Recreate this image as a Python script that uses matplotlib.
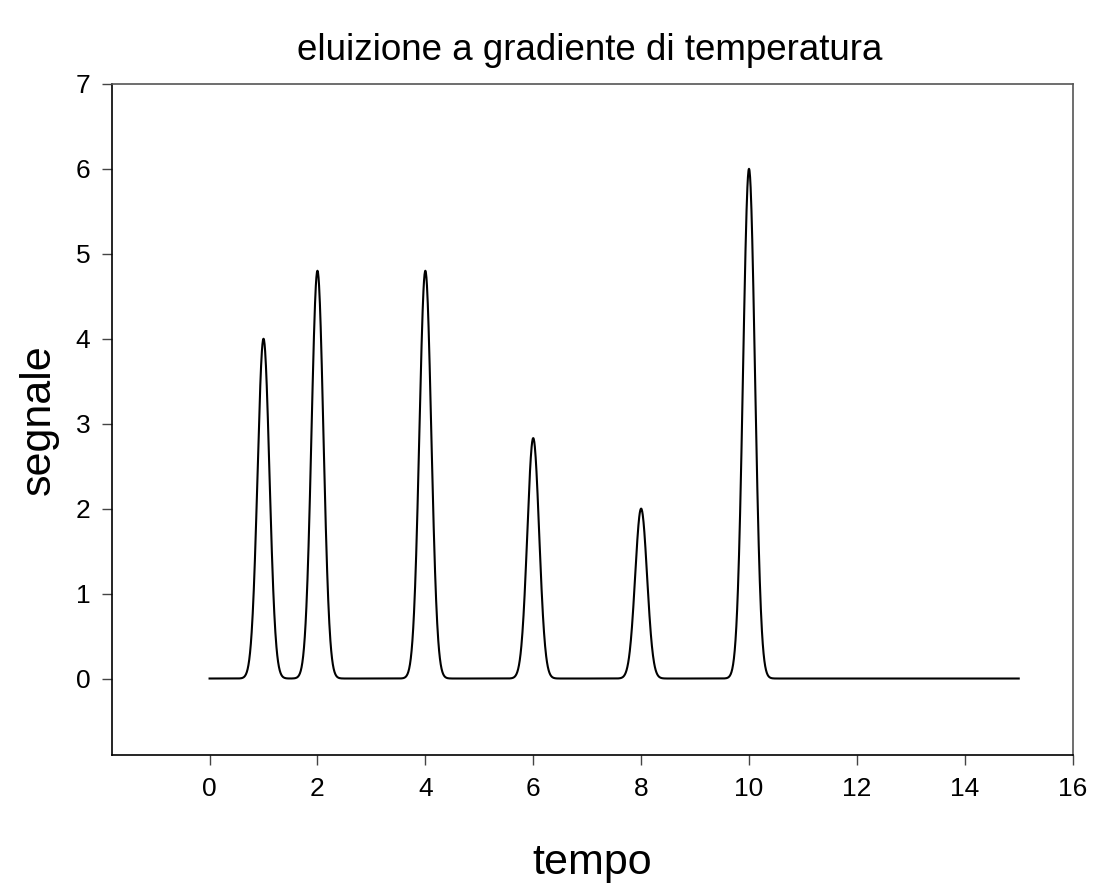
import numpy as np
from matplotlib import pyplot as plt

plt.rcParams['font.family'] = ['Liberation Sans', 'DejaVu Sans']

# peaks
peak_centers = [1.0, 2.0, 4.0, 6.0, 8.0, 10.0]
peak_heights = [4.0, 4.8, 4.8, 2.83, 2.0, 6.0]
peak_sigma = [0.11, 0.11, 0.11, 0.11, 0.11, 0.11]
t_start, t_end = 0.0, 15.0

x_ticks = [0, 2, 4, 6, 8, 10, 12, 14, 16]
y_ticks = [0, 1, 2, 3, 4, 5, 6, 7]

t = np.linspace(t_start, t_end, 3001)
signal = np.zeros_like(t)
for c, h, s in zip(peak_centers, peak_heights, peak_sigma):
    signal += h*np.exp(-0.5*((t-c)/s)**2)

fig = plt.figure(figsize=(10.93, 8.83), dpi=100)
ax = fig.add_axes([0.1029, 0.145, 0.8785, 0.760])
ax.plot(t, signal, color='black', lw=1.5)
ax.set_xlim(-1.8, 16)
ax.set_ylim(-0.9, 7)
ax.set_xticks(x_ticks)
ax.set_yticks(y_ticks)
ax.tick_params(direction='out', length=7, width=1, labelsize=19, pad=9, colors='#444444', labelcolor='black')
for sp in ax.spines.values():
    sp.set_linewidth(1.2)
ax.spines['top'].set_color('#555555')
ax.spines['right'].set_color('#555555')
ax.set_xlabel('tempo', fontsize=31, labelpad=30)
ax.set_ylabel('segnale', fontsize=31, labelpad=12)
fig.text(0.5396, 0.943, 'eluizione a gradiente di temperatura', fontsize=26.5, ha='center', va='center')
fig.savefig('out.png', dpi=100)
